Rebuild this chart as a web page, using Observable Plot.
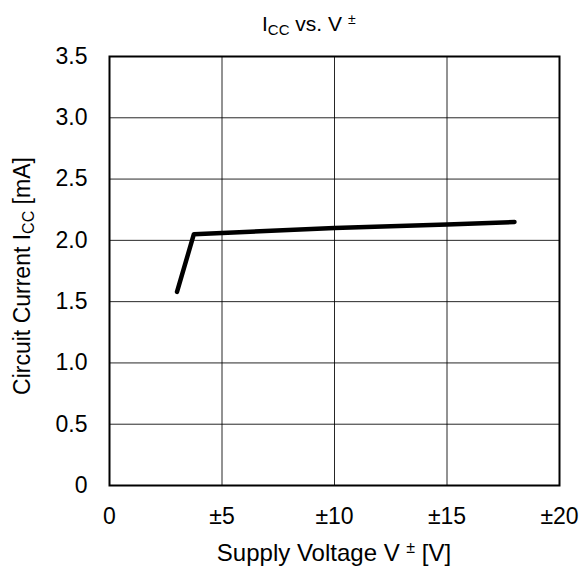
<!DOCTYPE html>
<html>
<head>
<meta charset="utf-8">
<script src="https://cdn.jsdelivr.net/npm/d3@7"></script>
<script src="https://cdn.jsdelivr.net/npm/@observablehq/plot@0.6"></script>
<style>
  html, body { margin: 0; padding: 0; background: #fff; }
  #chart { position: relative; width: 581px; height: 571px; }
</style>
</head>
<body>
<div id="chart"></div>
<script>
// Data
const supplyVoltage = [3, 3.75, 5, 10, 15, 18];              // V±
const circuitCurrent = [1.58, 2.05, 2.06, 2.10, 2.13, 2.15]; // mA
const xTicks = [0, 5, 10, 15, 20];
const yTicks = [0, 0.5, 1.0, 1.5, 2.0, 2.5, 3.0, 3.5];

const data = supplyVoltage.map((v, i) => ({v, i: circuitCurrent[i]}));
const FONT = "Liberation Sans, Arial, sans-serif";

const plot = Plot.plot({
  width: 581,
  height: 571,
  marginLeft: 109,
  marginRight: 22,
  marginTop: 56,
  marginBottom: 86,
  style: {fontFamily: FONT, fontSize: "23px", color: "#000", background: "#fff"},
  x: {domain: [0, 20]},
  y: {domain: [0, 3.5]},
  marks: [
    Plot.gridX(xTicks, {stroke: "#000", strokeOpacity: 0.85, strokeWidth: 1}),
    Plot.gridY(yTicks, {stroke: "#000", strokeOpacity: 0.85, strokeWidth: 1}),
    Plot.axisX(xTicks, {tickSize: 0, tickPadding: 22, label: null,
      tickFormat: d => d === 0 ? "0" : "±" + d, fontSize: 23}),
    Plot.axisY(yTicks, {tickSize: 0, tickPadding: 22, label: null,
      tickFormat: d => d === 0 ? "0" : d.toFixed(1), fontSize: 23}),
    Plot.line(data, {x: "v", y: "i", stroke: "#000", strokeWidth: 4.5, strokeLinejoin: "round", strokeLinecap: "round"}),
    Plot.frame({stroke: "#000", strokeWidth: 2})
  ]
});
document.getElementById("chart").appendChild(plot);

const svg = d3.select(plot);
// Title: I_CC vs. V ±
const t = svg.append("text").attr("x", 262).attr("y", 31).attr("text-anchor", "start")
  .attr("font-family", FONT).attr("font-size", 21).attr("fill", "#000");
t.append("tspan").text("I");
t.append("tspan").attr("font-size", 15).attr("dy", 4).text("CC");
t.append("tspan").attr("dy", -4).text(" vs. V ");
t.append("tspan").attr("font-size", 14).attr("dy", -7).text("±");

// X label: Supply Voltage V ± [V]
const xl = svg.append("text").attr("x", 334).attr("y", 561).attr("text-anchor", "middle")
  .attr("font-family", FONT).attr("font-size", 24).attr("fill", "#000");
xl.append("tspan").text("Supply Voltage V ");
xl.append("tspan").attr("font-size", 16).attr("dy", -8).text("±");
xl.append("tspan").attr("dy", 8).text(" [V]");

// Y label: Circuit Current I_CC [mA]
const yl = svg.append("text").attr("transform", "translate(30,276) rotate(-90)")
  .attr("text-anchor", "middle")
  .attr("font-family", FONT).attr("font-size", 23).attr("fill", "#000");
yl.append("tspan").text("Circuit Current I");
yl.append("tspan").attr("font-size", 16).attr("dy", 4).text("CC");
yl.append("tspan").attr("dy", -4).text(" [mA]");
</script>
</body>
</html>
